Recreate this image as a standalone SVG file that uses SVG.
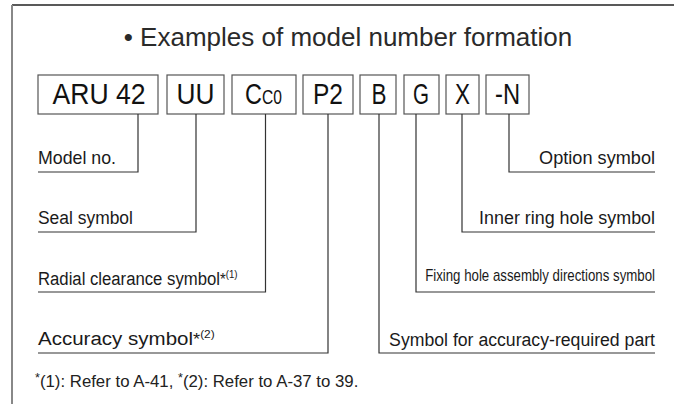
<svg xmlns="http://www.w3.org/2000/svg" width="674" height="404" viewBox="0 0 674 404">
<style>
.frame-top{stroke:#222;stroke-width:1.5;fill:none}
.frame-left{stroke:#888;stroke-width:2;fill:none}
.box{fill:#fff;stroke:#555;stroke-width:1.2}
.bt{font-family:"Liberation Sans",Arial,sans-serif;font-size:30px;fill:#111;text-anchor:middle}
.lbl{font-family:"Liberation Sans",Arial,sans-serif;font-size:19px;fill:#1a1a1a}
.r{text-anchor:end}
.title{font-family:"Liberation Sans",Arial,sans-serif;font-size:26px;fill:#2a2a2a;text-anchor:middle}
.foot{font-family:"Liberation Sans",Arial,sans-serif;font-size:16px;fill:#222}
.conn path{fill:none;stroke:#333;stroke-width:1.2}
</style>
<rect width="674" height="404" fill="#fff"/>
<path class="frame-top" d="M12 5H674"/>
<path class="frame-left" d="M12 5V404"/>
<text class="title" x="348" y="46">• Examples of model number formation</text>

<g id="box-aru"><rect class="box" x="38" y="75" width="120" height="39"/><text class="bt" x="99" y="104" textLength="93" lengthAdjust="spacingAndGlyphs">ARU 42</text></g>
<g id="box-uu"><rect class="box" x="167" y="75" width="57" height="39"/><text class="bt" x="195.5" y="104" textLength="38" lengthAdjust="spacingAndGlyphs">UU</text></g>
<g id="box-cc0"><rect class="box" x="232" y="75" width="64" height="39"/><text class="bt" transform="translate(245 104) scale(0.78 1)" x="0" y="0" style="text-anchor:start">C<tspan style="font-size:20px">C0</tspan></text></g>
<g id="box-p2"><rect class="box" x="303" y="75" width="50" height="39"/><text class="bt" x="328" y="104" textLength="30" lengthAdjust="spacingAndGlyphs">P2</text></g>
<g id="box-b"><rect class="box" x="360" y="75" width="36" height="39"/><text class="bt" x="379" y="104" textLength="15" lengthAdjust="spacingAndGlyphs">B</text></g>
<g id="box-g"><rect class="box" x="404" y="75" width="35" height="39"/><text class="bt" x="421" y="104" textLength="16" lengthAdjust="spacingAndGlyphs">G</text></g>
<g id="box-x"><rect class="box" x="446" y="75" width="33" height="39"/><text class="bt" x="462.5" y="104" textLength="15" lengthAdjust="spacingAndGlyphs">X</text></g>
<g id="box-n"><rect class="box" x="486" y="75" width="43" height="39"/><text class="bt" x="507.5" y="104" textLength="25" lengthAdjust="spacingAndGlyphs">-N</text></g>

<g class="conn" id="connectors">
<path d="M138 114V172H38"/>
<path d="M196 114V232H38"/>
<path d="M265.5 114V292H38"/>
<path d="M328 114V353H38"/>
<path d="M379 114V353H655"/>
<path d="M416 114V292H655"/>
<path d="M462 114V232H655"/>
<path d="M509 114V172H655"/>
</g>

<g id="lbl-model"><text class="lbl" transform="translate(38 164) scale(0.935 1)">Model no.</text></g>
<g id="lbl-seal"><text class="lbl" transform="translate(38 224) scale(0.918 1)">Seal symbol</text></g>
<g id="lbl-radial"><text class="lbl" transform="translate(38 285) scale(0.88 1)">Radial clearance symbol<tspan style="font-size:17px">*</tspan><tspan style="font-size:11px" dy="-7">(1)</tspan></text></g>
<g id="lbl-accuracy"><text class="lbl" transform="translate(38 345) scale(1.08 1)">Accuracy symbol<tspan style="font-size:17px">*</tspan><tspan style="font-size:11px" dy="-7">(2)</tspan></text></g>
<g id="lbl-option"><text class="lbl r" transform="translate(655 164) scale(0.955 1)">Option symbol</text></g>
<g id="lbl-inner"><text class="lbl r" transform="translate(655 224) scale(0.942 1)">Inner ring hole symbol</text></g>
<g id="lbl-fixing"><text class="lbl r" style="font-size:16px" transform="translate(655 281) scale(0.829 1)">Fixing hole assembly directions symbol</text></g>
<g id="lbl-accpart"><text class="lbl r" transform="translate(655 346) scale(0.93 1)">Symbol for accuracy-required part</text></g>

<text class="foot" transform="translate(35 387) scale(1.05 1)"><tspan font-size="12" dy="-5">*</tspan><tspan dy="5">(1): Refer to A-41, </tspan><tspan font-size="12" dy="-5">*</tspan><tspan dy="5">(2): Refer to A-37 to 39.</tspan></text>
</svg>
